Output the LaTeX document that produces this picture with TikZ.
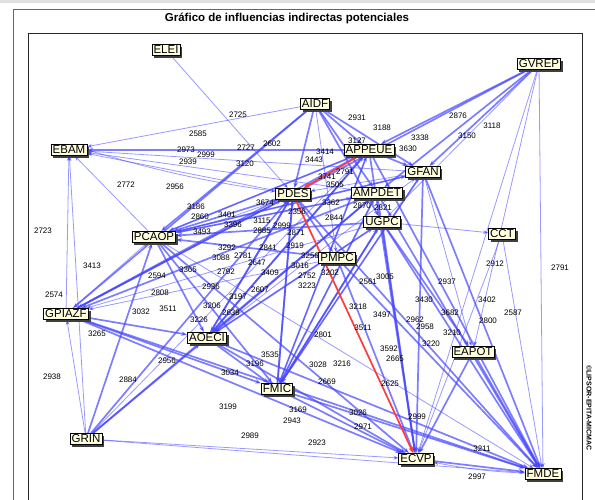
\documentclass[tikz,border=0pt]{standalone}
\usepackage{fontspec}
\setmainfont{Liberation Sans}
\usetikzlibrary{arrows.meta,shadows,backgrounds}

\definecolor{linkblue}{RGB}{70,70,255}
\definecolor{linkred}{RGB}{255,60,60}
\definecolor{boxfill}{RGB}{255,255,224}

\begin{document}
\begin{tikzpicture}[x=1pt, y=-1pt,
  var/.style = {draw, fill = boxfill, inner sep = 1.6pt, line width = 0.6pt,
    font = \fontsize{11.5}{12}\selectfont,
    drop shadow = {shadow xshift = 2.2pt, shadow yshift = -2.2pt, fill = black!75, opacity = 1}},
  strong/.style = {draw = linkblue, line width = 1.7pt, draw opacity = 0.7,
    -{Stealth[length = 6pt, width = 4.5pt]}},
  weak/.style = {draw = linkblue, line width = 0.8pt, draw opacity = 0.55,
    -{Stealth[length = 5pt, width = 4pt]}},
  hot/.style = {draw = linkred, line width = 1.7pt, -{Stealth[length = 6pt, width = 4.5pt]}},
  val/.style = {font = \fontsize{8}{8}\selectfont, inner sep = 0pt}]
  \useasboundingbox (0, 0) rectangle (595, 500);
  % title and frames
  \fill[black!12] (0, 0) rectangle (595, 3);
  \draw[black!60, line width = 0.8pt] (13, 520) -- (13, 9) -- (600, 9);
  \node[font = \fontsize{11.5}{13}\bfseries\selectfont] (title) at (287, 18)
    {Gráfico de influencias indirectas potenciales};
  \node[rotate = -90, anchor = west, font = \fontsize{7}{7}\bfseries\selectfont] (copy)
    at (589, 362) {©LIPSOR-EPITA-MICMAC};
  % variables
  \node[var] (ELEI) at (166, 50) {ELEI};
  \node[var] (GVREP) at (539, 64) {GVREP};
  \node[var] (AIDF) at (315, 104) {AIDF};
  \node[var] (EBAM) at (69, 150) {EBAM};
  \node[var] (APPEUE) at (369, 150) {APPEUE};
  \node[var] (GFAN) at (423, 172) {GFAN};
  \node[var] (PDES) at (293, 194) {PDES};
  \node[var] (AMPDET) at (377, 193) {AMPDET};
  \node[var] (UGPC) at (382, 222) {UGPC};
  \node[var] (CCT) at (502, 234) {CCT};
  \node[var] (PCAOP) at (154, 237) {PCAOP};
  \node[var] (PMPC) at (337, 258) {PMPC};
  \node[var] (GPIAZF) at (66, 314) {GPIAZF};
  \node[var] (AOECI) at (207, 338) {AOECI};
  \node[var] (EAPOT) at (473, 352) {EAPOT};
  \node[var] (FMIC) at (277, 389) {FMIC};
  \node[var] (GRIN) at (86, 439) {GRIN};
  \node[var] (ECVP) at (416, 459) {ECVP};
  \node[var] (FMDE) at (543, 474) {FMDE};
  \begin{pgfonlayer}{background}
    \draw[black!85, line width = 0.8pt] (28, 33) rectangle (582, 520);
    % strong influences
    \foreach \a/\b in {AIDF/PDES, AIDF/PCAOP, AIDF/APPEUE, AIDF/AMPDET, AIDF/UGPC,
      AIDF/GFAN, AIDF/GPIAZF, GVREP/APPEUE, GVREP/GFAN, GVREP/AMPDET, GVREP/PDES,
      APPEUE/PCAOP, APPEUE/EBAM, APPEUE/ECVP, APPEUE/FMDE, APPEUE/AOECI, APPEUE/GFAN,
      GFAN/PCAOP, GFAN/ECVP, GFAN/FMDE, GFAN/FMIC, AMPDET/PCAOP, AMPDET/ECVP,
      AMPDET/FMDE, AMPDET/AOECI, AMPDET/GPIAZF, UGPC/PCAOP, UGPC/ECVP, UGPC/FMDE,
      UGPC/FMIC, UGPC/EAPOT, PDES/PCAOP, PDES/FMDE, PDES/AOECI, PDES/FMIC,
      PDES/GPIAZF, PDES/PMPC, PCAOP/FMIC, PCAOP/ECVP, PCAOP/AOECI, GPIAZF/PDES,
      GPIAZF/APPEUE, GPIAZF/AOECI, GPIAZF/ECVP, GPIAZF/FMDE, GRIN/PCAOP, GRIN/AOECI,
      GRIN/PDES, GRIN/AMPDET, AOECI/PDES, AOECI/APPEUE, AOECI/ECVP, AOECI/FMDE,
      AOECI/FMIC, FMIC/APPEUE, FMIC/AMPDET, FMIC/ECVP, FMIC/FMDE, FMIC/PDES,
      PMPC/ECVP, PMPC/FMDE, PMPC/PCAOP, EAPOT/FMDE, EAPOT/ECVP, ECVP/FMDE,
      GPIAZF/FMIC, AOECI/UGPC, FMIC/UGPC}
      \draw[strong] (\a) -- (\b);
    % weak influences
    \foreach \a/\b in {ELEI/PDES, AIDF/EBAM, AIDF/PMPC, GVREP/FMDE, GVREP/ECVP,
      GVREP/UGPC, GVREP/EAPOT, GFAN/EBAM, PDES/EBAM, PCAOP/EBAM, GPIAZF/EBAM,
      GRIN/EBAM, GRIN/GPIAZF, GRIN/ECVP, GRIN/FMDE, GRIN/APPEUE, UGPC/CCT,
      CCT/FMDE, CCT/ECVP, UGPC/AOECI, GFAN/EAPOT, AMPDET/EBAM, GFAN/PDES,
      APPEUE/FMIC, AMPDET/FMIC, PCAOP/FMDE, AOECI/GFAN, PMPC/GPIAZF, UGPC/GPIAZF,
      PCAOP/APPEUE, PCAOP/AMPDET, PCAOP/GFAN, GPIAZF/PCAOP, AOECI/AMPDET, FMIC/GFAN}
      \draw[weak] (\a) -- (\b);
    \draw[weak] (EBAM.east) to[bend right = 4] (PDES);
    \draw[weak] (FMDE) to[bend left = 4] (ECVP);
    \draw[weak] (PCAOP) to[bend right = 4] (PDES);
    % strongest ones
    \draw[hot] (APPEUE) -- (PDES);
    \draw[hot] (PDES) -- (ECVP);
  \end{pgfonlayer}
  % influence values
  \foreach \v/\x/\y [count = \i] in {2725/238/115, 2585/198/134, 2727/246/148,
    2602/272/144, 2973/186/150, 2939/188/162, 2999/206/155, 3120/245/164,
    2772/126/185, 2956/175/187, 2931/357/118, 3188/382/128, 3338/420/138,
    3630/408/149, 2876/458/116, 3118/492/126, 3150/467/136, 3414/325/152,
    3443/314/160, 3127/357/141, 2791/345/172, 3741/327/177, 3505/335/185,
    3362/331/203, 3674/265/203, 2356/297/212, 2870/362/206, 2821/383/208,
    2844/334/218, 3115/262/221, 2999/282/226, 2885/262/231, 2871/296/233,
    3186/196/207, 2860/200/217, 3401/227/215, 3396/233/225, 3493/202/232,
    3292/227/248, 3088/221/258, 2781/243/256, 2841/268/248, 2647/257/263,
    2919/295/246, 3256/310/256, 3016/300/266, 3409/270/273, 2752/307/276,
    3223/307/286, 3202/330/273, 2561/368/282, 3005/385/277, 2937/447/282,
    2912/495/264, 2791/560/268, 3430/424/300, 3402/487/300, 2587/513/313,
    2800/488/321, 3218/358/307, 3497/382/315, 3511/363/328, 2962/415/320,
    2958/425/327, 3682/450/313, 3210/452/333, 3220/431/344, 2801/323/335,
    3592/389/349, 2665/395/359, 3028/318/365, 3216/342/364, 2669/327/382,
    2625/390/384, 3026/358/413, 2971/363/427, 2999/417/417, 3211/482/449,
    2997/477/477, 2923/317/443, 3169/298/410, 2943/292/421, 2989/250/436,
    3199/228/407, 3535/270/355, 3196/255/364, 3034/230/373, 2956/167/361,
    2884/128/380, 2938/52/377, 3265/97/334, 2574/54/295, 3413/92/266,
    2723/43/231, 3032/141/312, 3511/168/309, 2808/160/293, 2594/157/276,
    3365/188/270, 2792/226/272, 2936/211/287, 3197/238/297, 2607/260/290,
    3206/212/306, 2639/231/313, 3226/199/320}
    \node[val] (v\i) at (\x, \y) {\v};
\end{tikzpicture}
\end{document}
